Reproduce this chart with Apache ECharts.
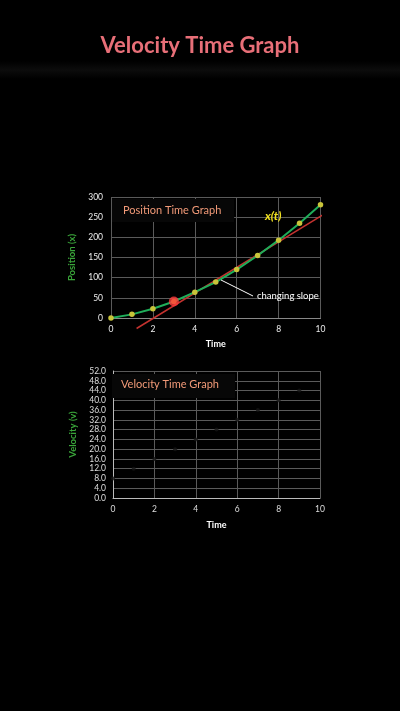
<!DOCTYPE html>
<html><head><meta charset="utf-8">
<script src="https://cdn.jsdelivr.net/npm/echarts@6/dist/echarts.min.js"></script>
<style>html,body{margin:0;padding:0;background:#000;}#c{width:400px;height:711px;}</style>
</head><body><div id="c"></div>
<script>
var timeTicks = [0, 1, 2, 3, 4, 5, 6, 7, 8, 9, 10];
var positionValues = [0, 9, 23, 41, 64, 89, 120, 155, 193, 235, 281];
var tangentLine = [[1.22, -26], [10.73, 275]];
var highlightPoint = [[3, 41]];
var velocityTimes = [0, 1, 2, 3, 4, 5, 6, 7, 8, 9];
var velocityValues = [8, 12, 16, 20, 24, 28, 32, 36, 40, 44];

var chart = echarts.init(document.getElementById('c'));
var font = 'Lato, "Open Sans", sans-serif';
var gridColor = '#5a5a5a';
chart.setOption({
  backgroundColor: '#000',
  animation: false,
  grid: [
    {left: 111, top: 197, width: 209.5, height: 121},
    {left: 113, top: 371, width: 207, height: 127}
  ],
  xAxis: [
    {gridIndex: 0, type: 'value', min: 0, max: 10, interval: 2,
     name: 'Time', nameLocation: 'middle', nameGap: 22,
     nameTextStyle: {color: '#fff', fontWeight: 'bold', fontSize: 9, fontFamily: font},
     axisLine: {show: true, lineStyle: {color: '#888'}}, axisTick: {show: false},
     axisLabel: {color: '#eee', fontSize: 8.5, margin: 7, fontFamily: font},
     splitLine: {show: true, lineStyle: {color: gridColor, width: 1}}},
    {gridIndex: 1, type: 'value', min: 0, max: 10, interval: 2,
     name: 'Time', nameLocation: 'middle', nameGap: 23,
     nameTextStyle: {color: '#fff', fontWeight: 'bold', fontSize: 9, fontFamily: font},
     axisLine: {show: true, lineStyle: {color: '#bbb'}}, axisTick: {show: false},
     axisLabel: {color: '#ddd', fontSize: 8.5, margin: 7, fontFamily: font},
     splitLine: {show: true, lineStyle: {color: gridColor, width: 1}}}
  ],
  yAxis: [
    {gridIndex: 0, type: 'value', min: 0, max: 300, interval: 50,
     name: 'Position (x)', nameLocation: 'middle', nameGap: 27, nameRotate: 90,
     nameTextStyle: {color: '#3aa53a', fontWeight: 'bold', fontSize: 9.5, fontFamily: font},
     axisLine: {show: false}, axisTick: {show: false},
     axisLabel: {color: '#eee', fontSize: 8.5, margin: 8, fontFamily: font},
     splitLine: {show: true, lineStyle: {color: gridColor, width: 1}}},
    {gridIndex: 1, type: 'value', min: 0, max: 52, interval: 4,
     name: 'Velocity (v)', nameLocation: 'middle', nameGap: 29, nameRotate: 90,
     nameTextStyle: {color: '#3aa53a', fontWeight: 'bold', fontSize: 9.5, fontFamily: font},
     axisLine: {show: true, lineStyle: {color: '#bbb'}}, axisTick: {show: false},
     axisLabel: {color: '#ddd', fontSize: 8.5, margin: 7, fontFamily: font,
       formatter: function (v) { return v.toFixed(1); }},
     splitLine: {show: true, lineStyle: {color: gridColor, width: 1}}}
  ],
  series: [
    {type: 'line', xAxisIndex: 0, yAxisIndex: 0, clip: false,
     data: tangentLine, showSymbol: false, symbol: 'none',
     lineStyle: {color: '#c4322f', width: 1.5}, z: 3},
    {type: 'line', xAxisIndex: 0, yAxisIndex: 0,
     data: timeTicks.map(function (t, i) { return [t, positionValues[i]]; }),
     symbol: 'circle', symbolSize: 5.5, showAllSymbol: true,
     lineStyle: {color: '#1fae5a', width: 2},
     itemStyle: {color: '#c9c43a'}, z: 4},
    {type: 'scatter', xAxisIndex: 0, yAxisIndex: 0,
     data: highlightPoint, symbolSize: 10,
     itemStyle: {color: '#ff3b3b'}, z: 5},
    {type: 'scatter', xAxisIndex: 1, yAxisIndex: 1,
     data: velocityTimes.map(function (t, i) { return [t, velocityValues[i]]; }),
     symbolSize: 4, itemStyle: {color: '#141414'}, z: 5}
  ],
  graphic: [
    {type: 'rect', left: 0, top: 61, z: 1,
     shape: {width: 400, height: 18},
     style: {fill: new echarts.graphic.LinearGradient(0, 0, 0, 1, [
       {offset: 0, color: '#000'}, {offset: 0.5, color: '#0c0c0c'}, {offset: 1, color: '#000'}])}},
    {type: 'text', left: 'center', top: 35, z: 20,
     style: {text: 'Velocity Time Graph', fill: '#e86f78', fontSize: 22, fontWeight: 'bold', fontFamily: font}},
    {type: 'rect', left: 112, top: 199, z: 50,
     shape: {width: 122, height: 23}, style: {fill: '#070707'}},
    {type: 'text', left: 123, top: 205, z: 51,
     style: {text: 'Position Time Graph', fill: '#f29a78', fontSize: 11, fontFamily: font}},
    {type: 'text', left: 265, top: 210, z: 51,
     style: {text: 'x(t)', fill: '#f0e020', fontSize: 12, fontWeight: 'bold', fontStyle: 'italic', fontFamily: font}},
    {type: 'line', z: 51,
     shape: {x1: 221, y1: 280, x2: 253, y2: 296}, style: {stroke: '#ffffff', lineWidth: 1}},
    {type: 'text', left: 257, top: 291, z: 51,
     style: {text: 'changing slope', fill: '#ffffff', fontSize: 9.5, fontFamily: font}},
    {type: 'rect', left: 112, top: 374, z: 50,
     shape: {width: 123, height: 24}, style: {fill: '#070707'}},
    {type: 'text', left: 121, top: 379, z: 51,
     style: {text: 'Velocity Time Graph', fill: '#f29a78', fontSize: 11, fontFamily: font}}
  ]
});
</script>
</body></html>
